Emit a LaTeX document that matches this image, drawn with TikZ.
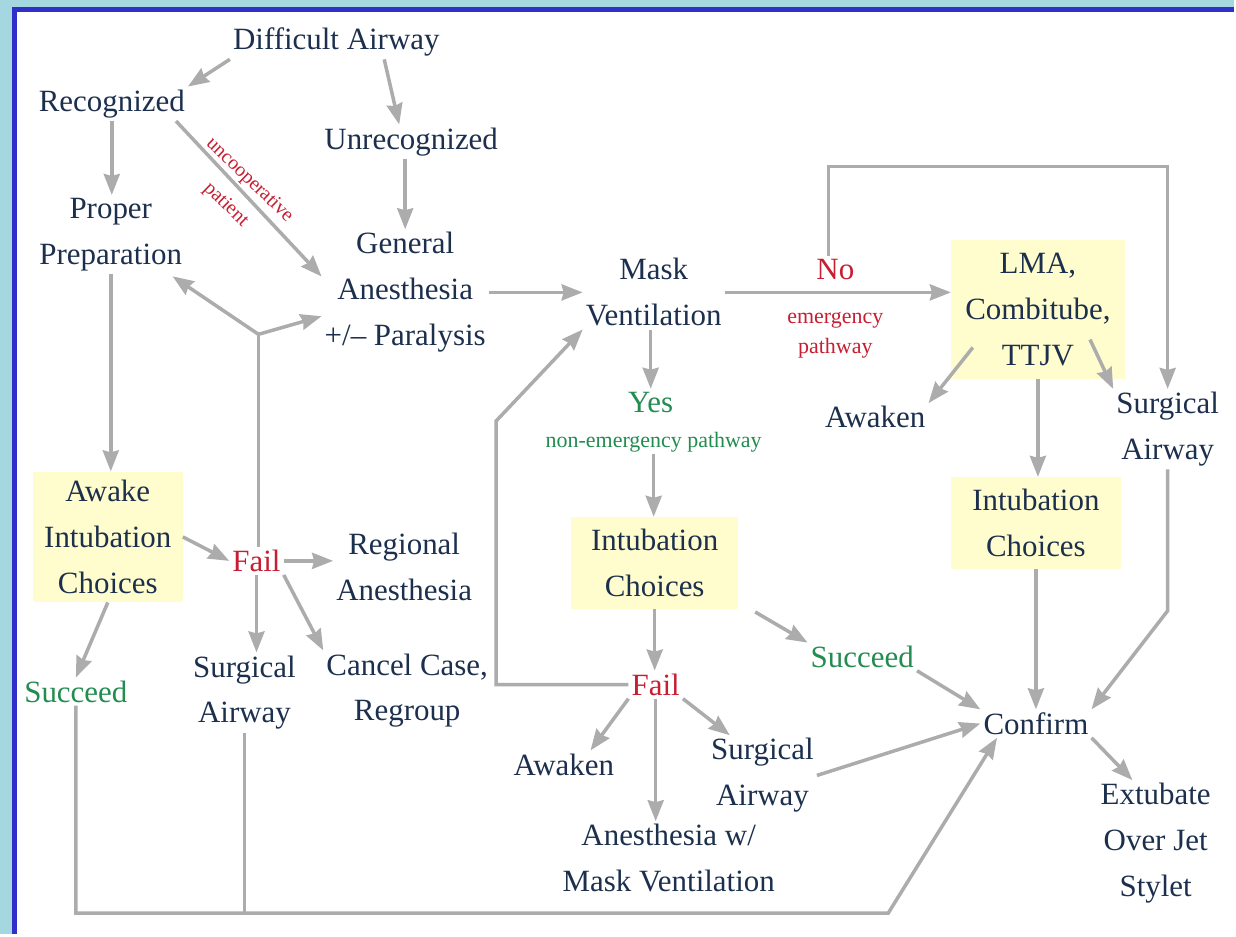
\documentclass[tikz,border=0pt]{standalone}
\usepackage{fontspec}
\setmainfont{Liberation Serif}
\usetikzlibrary{arrows.meta,calc}
\definecolor{navy}{RGB}{28,48,78}
\definecolor{fred}{RGB}{200,30,50}
\definecolor{fgreen}{RGB}{35,140,80}
\definecolor{lgray}{RGB}{172,172,172}
\definecolor{pale}{RGB}{255,253,205}
\definecolor{frame}{RGB}{48,48,200}
\definecolor{sky}{RGB}{165,215,225}
\tikzstyle{txt}=[align=center, text=navy, font=\fontsize{31}{46}\selectfont, inner sep=3pt]
\tikzstyle{alarm}=[txt, text=fred]
\tikzstyle{good}=[txt, text=fgreen]
\tikzstyle{note}=[align=center, font=\fontsize{22}{30}\selectfont, inner sep=2pt]
\tikzstyle{choice}=[txt, fill=pale]
\tikzstyle{ln}=[draw=lgray, line width=3.5pt]
\tikzstyle{arr}=[ln, -{Stealth[length=21pt,width=16pt,inset=2pt]}]

\begin{document}
\begin{tikzpicture}[x=1pt,y=-1pt]
      % frame
      \fill[sky] (0,0) rectangle (1236,936);
      \fill[white] (15,10) rectangle (1236,936);
      \draw[frame, line width=5pt] (15,936) -- (15,10) -- (1236,10);
      \useasboundingbox (0,0) rectangle (1236,936);

      \node[txt] (da) at (337,42) {Difficult Airway};

      \node[txt] (rec) at (112,104) {Recognized};
      \node[txt] (unrec) at (412,142) {Unrecognized};
      \node[note, text=fred, font=\fontsize{20}{34}\selectfont, inner sep=0pt, rotate=-44] (unc) at (238,193) {uncooperative\\patient};

      \node[txt] (prep) at (111,235) {Proper\\Preparation};
      \node[txt] (ga) at (406,293) {General\\Anesthesia\\+/– Paralysis};
      \node[txt] (mask) at (655,293) {Mask\\Ventilation};
      \node[alarm] (no) at (837,270) {No};
      \node[note, text=fred] (emg) at (837,336) {emergency\\pathway};
      \node[choice, minimum width=174pt, minimum height=140pt] (lma) at (1040,310) {LMA,\\Combitube,\\TTJV};

      \node[txt] (awk2) at (877,418) {Awaken};
      \node[txt] (sar) at (1170,430) {Surgical\\Airway};
      \node[good] (yes) at (652,403) {Yes};
      \node[note, text=fgreen] (nep) at (655,443) {non-emergency pathway};

      \node[choice, minimum width=150pt, minimum height=131pt] (awake) at (108,538) {Awake\\Intubation\\Choices};
      \node[alarm] (fail1) at (257,562) {Fail};
      \node[txt] (reg) at (405,568) {Regional\\Anesthesia};
      \node[choice, minimum width=167pt, minimum height=92pt] (ic1) at (656,564) {Intubation\\Choices};
      \node[choice, minimum width=170pt, minimum height=92pt] (ic2) at (1038,524) {Intubation\\Choices};

      \node[good] (succ1) at (76,693) {Succeed};
      \node[txt] (sar1) at (245,694) {Surgical\\Airway};
      \node[txt] (cancel) at (408,692) {Cancel Case,\\Regroup};
      \node[good] (succ2) at (864,658) {Succeed};
      \node[alarm] (fail2) at (657,686) {Fail};
      \node[txt] (conf) at (1038,725) {Confirm};

      \node[txt] (awk3) at (565,766) {Awaken};
      \node[txt] (sar2) at (764,777) {Surgical\\Airway};
      \node[txt] (anes) at (670,860) {Anesthesia w/\\Mask Ventilation};
      \node[txt] (ext) at (1158,845) {Extubate\\Over Jet\\Stylet};

      \coordinate (fork) at (259,335);
      \coordinate (loop) at (830,167);
      \coordinate (back) at (497,422);
      \coordinate (bend) at (1168,612);
      \coordinate (low) at (890,915);

      \draw[arr] (da.south west) -- (rec.north east);
      \draw[arr] ($(da.south)!0.45!(da.south east)$) -- ([xshift=-12pt]unrec.north);
      \draw[arr] (rec) -- (rec |- prep.north);
      \draw[arr] ([xshift=-12pt]rec.south east) -- ([yshift=16pt]ga.west);
      \draw[arr] (unrec.south -| ga) -- (ga.north);
      \draw[arr] (prep) -- (prep |- awake.north);

      \draw[ln] (fail1.north -| fork) -- (fork);
      \draw[arr, shorten >=4pt] (fork) -- (prep);
      \draw[arr] (fork) -- (ga);

      \draw[arr] (ga.east) -- (ga.east -| mask.west);
      \draw[arr] (mask.east) -- (mask.east -| lma.west);
      \draw[arr] (no.north -| loop) -- (loop) -| (sar.north);
      \draw[arr] ($(lma.south west)+(22,-32)$) -- (awk2.north east);
      \draw[arr] ($(lma.south east)+(-35,-40)$) -- (sar.north west);
      \draw[arr] (lma.south) -- (lma.south |- ic2.north);

      \draw[arr] (mask.south -| yes) -- (yes.north);
      \draw[arr] (nep.south) -- (nep.south |- ic1.north);
      \draw[arr] (ic1.south) -- (ic1.south |- fail2.north);
      \draw[arr] ($(ic1.south east)+(17,3)$) -- (succ2.north west);
      \draw[arr] (fail2.west) -- (fail2.west -| back) -- (back) -- (mask.south west);
      \draw[arr] (fail2.south west) -- ($(awk3.north)!0.5!(awk3.north east)$);
      \draw[arr] (fail2.south) -- (fail2.south |- anes.north);
      \draw[arr] (fail2.south east) -- ($(sar2.north west)!0.4!(sar2.north)$);

      \draw[arr] (succ2.south east) -- (conf.north west);
      \draw[arr] (sar2.east) -- (conf.west);
      \draw[arr] (ic2.south) -- (ic2.south |- conf.north);
      \draw[arr] (sar.south) -- (sar.south |- bend) -- (conf.north east);
      \draw[arr] (conf.south east) -- ($(ext.north west)!0.6!(ext.north)$);

      \draw[arr] (awake.east) -- (fail1.west);
      \draw[arr] (fail1.east) -- (fail1.east -| reg.west);
      \draw[arr] (fail1.south) -- (fail1.south |- sar1.north);
      \draw[arr] (fail1.south east) -- (cancel.north west);
      \draw[arr] (awake.south) -- (succ1.north);

      \draw[arr] (succ1.south) -- (succ1.south |- low) -- (low) -- ($(conf.south west)!0.3!(conf.south)$);
      \draw[ln] (sar1.south) -- (sar1.south |- low);
\end{tikzpicture}
\end{document}
